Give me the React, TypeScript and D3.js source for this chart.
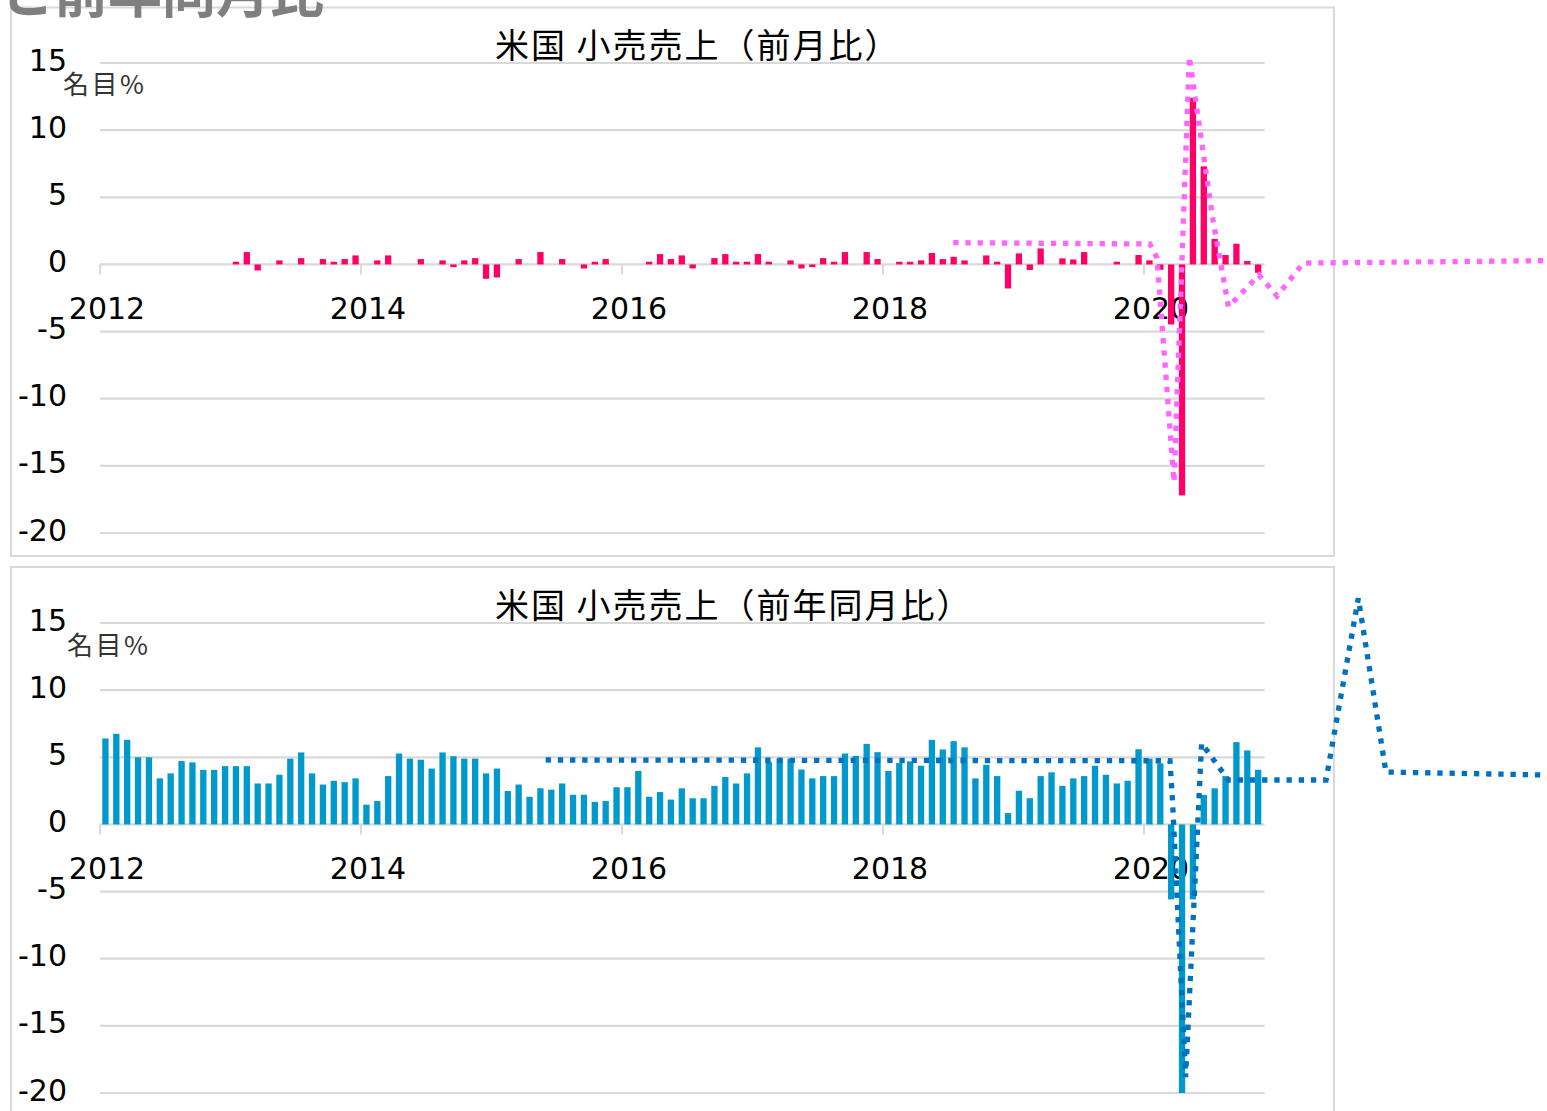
import React from 'react';
import * as d3 from 'd3';

// months Jan 2012 .. Nov 2020
const months: string[] = d3.timeMonth
  .range(new Date(2012, 0, 1), new Date(2020, 11, 1))
  .map(d3.timeFormat('%Y-%m'));

const yearLabels = ['2012', '2014', '2016', '2018', '2020'];
const yTicks = [15, 10, 5, 0, -5, -10, -15, -20];

// 前月比 (MoM %), 2012 has no bars
const momValues: (number | null)[] = [
  null, null, null, null, null, null, null, null, null, null, null, null,
  0.2, 0.92, -0.45, 0, 0.3, 0, 0.47, 0, 0.4, 0.2, 0.4, 0.67,
  0, 0.3, 0.67, 0, 0, 0.4, 0, 0.3, -0.2, 0.3, 0.47, -1.07,
  -0.97, 0, 0.4, 0, 0.92, 0, 0.4, 0, -0.3, 0.2, 0.4, 0,
  0, 0, 0.2, 0.77, 0.4, 0.67, -0.3, 0, 0.47, 0.77, 0.2, 0.2,
  0.77, 0.2, 0, 0.3, -0.3, -0.2, 0.47, 0.2, 0.92, 0, 0.92, 0.4,
  0, 0.2, 0.2, 0.3, 0.85, 0.4, 0.57, 0.3, 0, 0.67, 0.2, -1.79,
  0.82, -0.42, 1.19, 0, 0.45, 0.37, 0.92, 0, 0, 0.2, 0, 0.7,
  0.3, -0.4, -4.47, -17.2, 12.4, 7.3, 1.9, 0.7, 1.54, 0.25, -0.62,
];

// 前年同月比 (YoY %)
const yoyValues: number[] = [
  6.4, 6.75, 6.3, 5.0, 5.0, 3.43, 3.8, 4.72, 4.62, 4.06, 4.06, 4.34,
  4.34, 4.34, 3.05, 3.05, 3.7, 4.9, 5.36, 3.8, 2.97, 3.25, 3.15, 3.43,
  1.47, 1.75, 3.6, 5.28, 4.9, 4.82, 4.16, 5.36, 5.08, 4.9, 4.9, 3.8,
  4.16, 2.49, 2.97, 2.06, 2.69, 2.59, 3.05, 2.21, 2.21, 1.68, 1.75, 2.77,
  2.77, 3.98, 2.06, 2.41, 1.85, 2.69, 1.95, 1.95, 2.87, 3.53, 3.05, 3.8,
  5.74, 4.64, 4.9, 4.9, 4.09, 3.43, 3.6, 3.6, 5.28, 5.1, 6.0, 5.38,
  3.98, 4.57, 4.7, 4.37, 6.3, 5.58, 6.2, 5.74, 3.43, 4.44, 3.6, 0.84,
  2.51, 1.95, 3.6, 3.88, 2.87, 3.43, 3.6, 4.37, 3.7, 3.05, 3.25, 5.6,
  4.9, 4.55, -5.58, -20, -5.58, 2.19, 2.69, 3.6, 6.13, 5.51, 4.07,
];

// dotted overlay lines: position in months from Jan 2012, value in %
const momOverlayPos = [78.46, 96.55, 97.2, 98.76, 100.17, 102.34, 103.77, 106.57, 108.23, 110.65, 133.1];
const momOverlayVal = [1.62, 1.52, 0.48, -16.2, 15.47, 3.31, -3.15, -0.79, -2.35, 0.1, 0.28];
const yoyOverlayPos = [40.98, 98.39, 98.62, 99.83, 101.3, 103.75, 112.74, 115.71, 118.25, 133.1];
const yoyOverlayVal = [4.8, 4.74, 1.82, -18.81, 6.04, 3.31, 3.31, 16.84, 3.9, 3.68];

const W = 1547;
const H = 1111;
const PLOT_L = 100;
const PLOT_R = 1263.6;
const GRID = '#d9d9d9';
const NUM_FONT = '"DejaVu Sans", Verdana, sans-serif';
const JP_FONT = '"Noto Sans CJK JP", "Noto Sans", sans-serif';

interface PanelProps {
  title: string;
  values: (number | null)[];
  barColor: string;
  overlayPos: number[];
  overlayVal: number[];
  overlayColor: string;
  top: number; // y of value 15
  frameTop: number;
  frameBottom: number;
  unitX: number;
  unitY: number;
  titleY: number;
}

const Panel: React.FC<PanelProps> = ({
  title, values, barColor, overlayPos, overlayVal, overlayColor,
  top, frameTop, frameBottom, unitX, unitY, titleY,
}) => {
  const y = d3.scaleLinear().domain([-20, 15]).range([top + 470, top]);
  const x = d3.scaleBand<string>()
    .domain(months)
    .range([PLOT_L, PLOT_R])
    .paddingInner(0.42)
    .paddingOuter(0.21);
  const xPos = d3.scaleLinear().domain([0, months.length]).range([PLOT_L, PLOT_R]);
  const line = d3.line<number>()
    .x((_, i) => xPos(overlayPos[i]))
    .y((d) => y(d));
  const y0 = y(0);

  return (
    <g>
      <rect x={11} y={frameTop} width={1323} height={frameBottom - frameTop}
        fill="#fff" stroke={GRID} strokeWidth={2} />
      {yTicks.map((t) => (
        <line key={t} x1={PLOT_L} x2={1264.5} y1={y(t)} y2={y(t)} stroke={GRID} strokeWidth={2.2} />
      ))}
      {yTicks.map((t) => (
        <text key={t} x={67} y={y(t) + 7.5} textAnchor="end" fontSize={30}
          fontFamily={NUM_FONT} fill="#000">{t}</text>
      ))}
      {yearLabels.map((yr) => {
        const tx = xPos(months.indexOf(`${yr}-01`));
        return (
          <g key={yr}>
            <line x1={tx} x2={tx} y1={y0} y2={y0 + 10} stroke={GRID} strokeWidth={2} />
            <text x={tx + 7} y={y0 + 54.6} textAnchor="middle" fontSize={30}
              fontFamily={NUM_FONT} fill="#000">{yr}</text>
          </g>
        );
      })}
      <text x={unitX} y={unitY} fontSize={26} letterSpacing={2.5} fontFamily={JP_FONT} fill="#333">名目%</text>
      <text x={495} y={titleY} fontSize={34} letterSpacing={2} fontFamily={JP_FONT} fill="#000">{title}</text>
      {values.map((v, i) => (v === null || v === 0 ? null : (
        <rect key={months[i]} x={x(months[i])} width={x.bandwidth()}
          y={Math.min(y(v), y0)} height={Math.abs(y(v) - y0)} fill={barColor} />
      )))}
      <path d={line(overlayVal) || ''} fill="none" stroke={overlayColor}
        strokeWidth={5.3} strokeDasharray="5.3 6.9" strokeLinejoin="miter" />
    </g>
  );
};

const App: React.FC = () => (
  <svg width={W} height={H} style={{ position: 'absolute', left: 0, top: 0, background: '#fff' }}>
    <rect x={0} y={0} width={W} height={H} fill="#fff" />
    <Panel
      title="米国 小売売上（前月比）"
      values={momValues}
      barColor="#ff0066"
      overlayPos={momOverlayPos}
      overlayVal={momOverlayVal}
      overlayColor="#ff66ff"
      top={63}
      frameTop={7.5}
      frameBottom={556}
      unitX={63}
      unitY={94}
      titleY={58}
    />
    <Panel
      title="米国 小売売上（前年同月比）"
      values={yoyValues}
      barColor="#0099cc"
      overlayPos={yoyOverlayPos}
      overlayVal={yoyOverlayVal}
      overlayColor="#0070c0"
      top={623}
      frameTop={567}
      frameBottom={1200}
      unitX={67}
      unitY={655}
      titleY={618}
    />
    <text x={0} y={13} fontSize={54} fontWeight="bold" fontFamily={JP_FONT} fill="#7f7f7f">と前年同月比</text>
  </svg>
);

export default App;
